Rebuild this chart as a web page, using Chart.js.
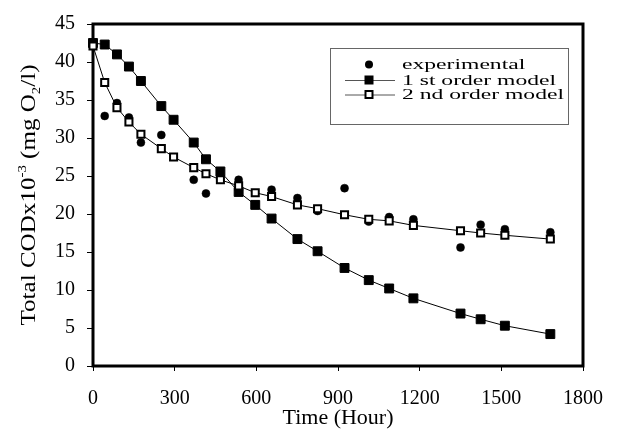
<!DOCTYPE html>
<html>
<head>
<meta charset="utf-8">
<script src="https://cdn.jsdelivr.net/npm/chart.js@4"></script>
<style>
  body { margin: 0; background: #fff; }
  #wrap { width: 619px; height: 432px; }
</style>
</head>
<body>
<div id="wrap"><canvas id="grafico" width="619" height="432"></canvas></div>
<script>
const SERIF = '"Liberation Serif", "Times New Roman", serif';

// tiempos (h) de las curvas de modelo
const tiempoModelo = [0, 43, 88, 132, 176, 251, 296, 370, 415, 468, 535, 596, 656, 751, 825, 924, 1013, 1088, 1177, 1350, 1424, 1513, 1680];
const primerOrden = [42.5, 42.3, 41.0, 39.4, 37.5, 34.2, 32.4, 29.4, 27.2, 25.6, 22.9, 21.2, 19.4, 16.7, 15.1, 12.9, 11.3, 10.2, 8.9, 6.9, 6.15, 5.3, 4.2];
const segundoOrden = [42.1, 37.3, 34.0, 32.1, 30.5, 28.6, 27.5, 26.1, 25.3, 24.5, 23.7, 22.8, 22.3, 21.2, 20.7, 19.9, 19.3, 19.1, 18.5, 17.8, 17.5, 17.2, 16.7];

// datos experimentales
const tiempoExp = [0, 43, 88, 132, 176, 251, 370, 415, 535, 656, 751, 825, 924, 1013, 1088, 1177, 1350, 1424, 1513, 1680];
const codExp = [42.3, 32.9, 34.6, 32.7, 29.4, 30.4, 24.5, 22.7, 24.5, 23.2, 22.1, 20.4, 23.4, 19.0, 19.6, 19.3, 15.6, 18.6, 18.0, 17.6];

const etiquetas = ['experimental', '1 st order model', '2 nd order model'];
const ticksX = [0, 300, 600, 900, 1200, 1500, 1800];
const ticksY = [0, 5, 10, 15, 20, 25, 30, 35, 40, 45];

const puntos = (xs, ys) => xs.map((x, i) => ({ x, y: ys[i] }));

const marco = {
    id: 'marco',
    beforeDatasetsDraw: (chart) => {
        const { ctx, chartArea: a } = chart;
        ctx.save();
        ctx.strokeStyle = '#000';
        ctx.lineWidth = 3;
        ctx.strokeRect(a.left, a.top, a.right - a.left, a.bottom - a.top);
        ctx.restore();
    }
};

const tituloY = {
    id: 'tituloY',
    afterDraw: (chart) => {
        const { ctx, chartArea: a } = chart;
        const partes = [
            { t: 'Total CODx10', f: 22, dy: 0 },
            { t: '-3', f: 13, dy: -9 },
            { t: ' (mg O', f: 22, dy: 0 },
            { t: '2', f: 13, dy: 5 },
            { t: '/l)', f: 22, dy: 0 }
        ];
        ctx.save();
        ctx.fillStyle = '#000';
        ctx.textBaseline = 'alphabetic';
        ctx.font = `22px ${SERIF}`;
        const sx = 148 / ctx.measureText('Total CODx10').width;
        const total = partes.reduce((s, p) => {
            ctx.font = `${p.f}px ${SERIF}`;
            return s + ctx.measureText(p.t).width;
        }, 0) * sx;
        ctx.translate(35, (a.top + a.bottom) / 2);
        ctx.rotate(-Math.PI / 2);
        let x = -total / 2;
        partes.forEach(p => {
            ctx.font = `${p.f}px ${SERIF}`;
            ctx.save();
            ctx.translate(x, p.dy);
            ctx.scale(sx, 1);
            ctx.fillText(p.t, 0, 0);
            ctx.restore();
            x += ctx.measureText(p.t).width * sx;
        });
        ctx.restore();
    }
};

const leyenda = {
    id: 'leyenda',
    afterDraw: (chart) => {
        const { ctx } = chart;
        ctx.save();
        ctx.strokeStyle = '#666';
        ctx.lineWidth = 1;
        ctx.strokeRect(330.5, 48.5, 238, 76);

        ctx.font = `15px ${SERIF}`;
        const sx = 162 / ctx.measureText(etiquetas[2]).width;
        const filas = [69, 84.5, 99];
        filas.forEach((base, i) => {
            const my = base - 4.5;
            if (i > 0) {
                ctx.strokeStyle = '#555';
                ctx.beginPath();
                ctx.moveTo(345, my + 0.5);
                ctx.lineTo(395, my + 0.5);
                ctx.stroke();
            }
            ctx.fillStyle = '#000';
            if (i === 0) {
                ctx.beginPath();
                ctx.arc(369, my, 4, 0, Math.PI * 2);
                ctx.fill();
            } else if (i === 1) {
                ctx.fillRect(364.5, my - 4.5, 9, 9);
            } else {
                ctx.fillRect(364.5, my - 4.5, 9, 9);
                ctx.fillStyle = '#fff';
                ctx.fillRect(366.5, my - 2.5, 5, 5);
            }
            ctx.fillStyle = '#000';
            ctx.save();
            ctx.translate(402, base);
            ctx.scale(sx, 1);
            ctx.fillText(etiquetas[i], 0, 0);
            ctx.restore();
        });
        ctx.restore();
    }
};

new Chart(document.getElementById('grafico'), {
    type: 'scatter',
    data: {
        datasets: [
            {
                label: etiquetas[0],
                data: puntos(tiempoExp, codExp),
                pointStyle: 'circle',
                pointRadius: 4,
                backgroundColor: '#000',
                borderColor: '#000',
                borderWidth: 0.5,
                showLine: false,
                order: 3
            },
            {
                label: etiquetas[1],
                data: puntos(tiempoModelo, primerOrden),
                pointStyle: 'rect',
                pointRadius: 6.3,
                backgroundColor: '#000',
                borderColor: '#000',
                pointBorderWidth: 1,
                borderWidth: 1,
                showLine: true,
                tension: 0,
                order: 2
            },
            {
                label: etiquetas[2],
                data: puntos(tiempoModelo, segundoOrden),
                pointStyle: 'rect',
                pointRadius: 5,
                pointBackgroundColor: '#fff',
                backgroundColor: '#fff',
                borderColor: '#000',
                pointBorderWidth: 2,
                borderWidth: 1,
                showLine: true,
                tension: 0,
                order: 1
            }
        ]
    },
    options: {
        responsive: false,
        animation: false,
        clip: false,
        layout: { padding: { top: 20, right: 23, left: 0, bottom: 0 } },
        plugins: {
            legend: { display: false },
            tooltip: { enabled: false }
        },
        scales: {
            x: {
                type: 'linear',
                min: 0,
                max: 1800,
                afterFit: (s) => { s.height = 66; },
                afterBuildTicks: (s) => { s.ticks = ticksX.map(value => ({ value })); },
                grid: { drawOnChartArea: false, color: '#000', tickLength: 5, lineWidth: 1 },
                border: { display: false },
                ticks: {
                    color: '#000',
                    padding: 16,
                    font: { family: SERIF, size: 20 },
                    callback: (v) => String(v)
                },
                title: {
                    display: true,
                    text: 'Time (Hour)',
                    color: '#000',
                    padding: { top: 0, bottom: 1 },
                    font: { family: SERIF, size: 22 }
                }
            },
            y: {
                type: 'linear',
                min: 0,
                max: 45,
                afterFit: (s) => { s.width = 93; },
                afterBuildTicks: (s) => { s.ticks = ticksY.map(value => ({ value })); },
                grid: { drawOnChartArea: false, color: '#000', tickLength: 6, lineWidth: 1 },
                border: { display: false },
                ticks: {
                    color: '#000',
                    padding: 12,
                    font: { family: SERIF, size: 20 },
                    callback: (v) => String(v)
                }
            }
        }
    },
    plugins: [marco, tituloY, leyenda]
});
</script>
</body>
</html>
